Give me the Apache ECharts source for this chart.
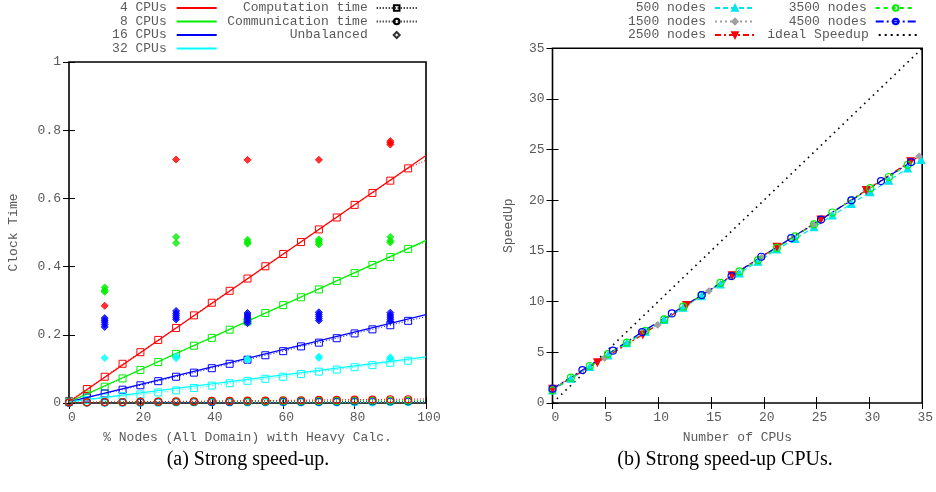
<!DOCTYPE html>
<html>
<head>
<meta charset="utf-8">
<script src="https://cdn.jsdelivr.net/npm/echarts@6/dist/echarts.min.js"></script>
<style>html,body{margin:0;padding:0;background:#fff}#c{width:936px;height:492px}</style>
</head>
<body>
<div id="c"></div>
<script>
// ---------- Left panel data (Strong speed-up) ----------
const pctNodes = [0,5,10,15,20,25,30,35,40,45,50,55,60,65,70,75,80,85,90,95,100];
const comp4  = [0.005,0.041,0.077,0.115,0.149,0.185,0.220,0.257,0.294,0.329,0.365,0.401,0.437,0.472,0.509,0.544,0.581,0.616,0.652,0.688,0.712];
const comp8  = [0.004,0.025,0.048,0.072,0.097,0.120,0.144,0.168,0.191,0.215,0.239,0.264,0.287,0.310,0.333,0.358,0.381,0.405,0.428,0.452,0.472];
const comp16 = [0.004,0.016,0.028,0.039,0.052,0.064,0.077,0.089,0.102,0.115,0.127,0.140,0.152,0.166,0.177,0.190,0.204,0.216,0.228,0.241,0.253];
const comp32 = [0.003,0.009,0.016,0.020,0.025,0.031,0.037,0.044,0.051,0.058,0.065,0.071,0.077,0.085,0.092,0.098,0.105,0.111,0.118,0.124,0.130];
const comm4  = [0.002,0.002,0.003,0.003,0.004,0.004,0.005,0.005,0.006,0.006,0.007,0.007,0.008,0.008,0.009,0.009,0.010,0.010,0.011,0.011,0.012];
const comm8  = [0.002,0.002,0.003,0.003,0.003,0.004,0.004,0.004,0.005,0.005,0.005,0.005,0.006,0.006,0.006,0.006,0.007,0.007,0.007,0.007,0.008];
const comm16 = [0.001,0.002,0.002,0.002,0.002,0.003,0.003,0.003,0.003,0.003,0.004,0.004,0.004,0.004,0.004,0.004,0.005,0.005,0.005,0.005,0.005];
const comm32 = [0.001,0.001,0.001,0.001,0.001,0.001,0.002,0.002,0.002,0.002,0.002,0.002,0.002,0.002,0.002,0.002,0.002,0.002,0.003,0.003,0.003];
const fitX   = [0, 100];
const fit4   = [0.003, 0.726];
const fit8   = [0.003, 0.477];
const fit16  = [0.003, 0.259];
const fit32  = [0.003, 0.135];
const unb4  = [[10,0.285],[30,0.714],[50,0.713],[70,0.713],[90,0.758],[90,0.763],[90,0.768]];
const unb8  = [[10,0.326],[10,0.331],[10,0.339],[30,0.469],[30,0.487],[50,0.467],[50,0.472],[50,0.479],[70,0.465],[70,0.470],[70,0.475],[70,0.480],[90,0.471],[90,0.476],[90,0.487]];
const unb16 = [[10,0.223],[10,0.230],[10,0.237],[10,0.243],[10,0.249],[30,0.245],[30,0.251],[30,0.257],[30,0.263],[30,0.270],[50,0.234],[50,0.240],[50,0.246],[50,0.252],[50,0.258],[50,0.264],[70,0.242],[70,0.248],[70,0.254],[70,0.260],[70,0.266],[90,0.240],[90,0.246],[90,0.252],[90,0.258],[90,0.265]];
const unb32 = [[10,0.132],[30,0.131],[30,0.137],[50,0.126],[50,0.130],[70,0.132],[70,0.136],[90,0.130],[90,0.134]];
const cpuNames = ['4 CPUs','8 CPUs','16 CPUs','32 CPUs'];
const cpuColors = ['#ff0000','#00ee00','#0000ff','#00ffff'];

// ---------- Right panel data (Strong speed-up CPUs) ----------
const cpu500   = [0,1.74,3.53,5.25,7.04,8.8,10.58,12.37,14.1,15.9,17.7,19.45,21.24,22.97,24.76,26.5,28.3,30.08,31.84,33.63,34.9];
const sp500    = [1.25,2.4,3.55,4.7,5.9,7.05,8.2,9.4,10.55,11.7,12.8,13.95,15.15,16.2,17.35,18.5,19.65,20.8,21.95,23.15,24.0];
const cpu1500  = [0,4.94,9.96,14.8,19.8,24.7,29.7,34.7];
const sp1500   = [1.3,4.45,7.7,11.05,14.35,17.6,21.0,24.35];
const cpu2500  = [0,4.25,8.55,12.68,17.0,21.25,25.4,29.7,33.9,35];
const sp2500   = [1.4,4.0,6.75,9.66,12.6,15.4,18.1,21.0,23.85,24.5];
const cpu3500  = [0,1.74,3.53,5.25,7.04,8.8,10.58,12.37,14.1,15.9,17.7,19.45,21.24,22.97,24.76,26.5,28.3,30.08,31.84,33.63];
const sp3500   = [1.25,2.5,3.65,4.83,5.95,7.13,8.25,9.5,10.65,11.86,12.98,14.1,15.3,16.45,17.63,18.8,20.0,21.2,22.3,23.5];
const cpu4500  = [0,2.83,5.72,8.48,11.3,14.13,16.95,19.77,22.6,25.42,28.3,31.1,33.94,35];
const sp4500   = [1.41,3.25,5.16,7.0,8.84,10.65,12.52,14.43,16.27,18.1,20.0,21.9,23.77,24.5];
const idealX   = [0, 35];
const idealY   = [0, 35];

const pair = (xs, ys) => xs.map((x, i) => [x, ys[i]]);
const MONO = '"Liberation Mono", "DejaVu Sans Mono", monospace';
const TXT = '#5a5a5a';
const CLEAR = 'rgba(255,255,255,0)';

const chart = echarts.init(document.getElementById('c'), null, {renderer: 'canvas'});

function axisBase(extra) {
  return Object.assign({
    type: 'value',
    splitLine: {show: false},
    axisLine: {show: false},
    axisTick: {show: true, inside: true, length: 6, lineStyle: {color: '#000', width: 1}},
    axisLabel: {color: TXT, fontFamily: MONO, fontSize: 13, margin: 8},
    nameTextStyle: {color: TXT, fontFamily: MONO, fontSize: 13}
  }, extra);
}
function xLab(a) { a.axisLabel = Object.assign({}, a.axisLabel, {padding: [0, 0, 0, 6]}); return a; }
function mirror(extra) {
  const a = axisBase(extra);
  a.axisLabel = {show: false};
  return a;
}

const series = [];
// fitted solid lines
[fit4, fit8, fit16, fit32].forEach((f, i) => {
  series.push({type: 'line', name: cpuNames[i], xAxisIndex: 0, yAxisIndex: 0, data: pair(fitX, f),
    symbol: 'none', lineStyle: {color: cpuColors[i], width: 1.3}, itemStyle: {color: cpuColors[i]}, z: 3});
});
// computation time
[comp4, comp8, comp16, comp32].forEach((c, i) => {
  series.push({type: 'line', name: 'comp' + i, xAxisIndex: 0, yAxisIndex: 0,
    data: pctNodes.map((x, k) => x === 100 ? {value: [x, c[k]], symbol: 'none'} : [x, c[k]]),
    symbol: 'rect', symbolSize: 7, showAllSymbol: true,
    lineStyle: {color: cpuColors[i], width: 1, type: [1, 2]},
    itemStyle: {color: CLEAR, borderColor: cpuColors[i], borderWidth: 1}, z: 2});
});
// communication time
[comm4, comm8, comm16, comm32].forEach((c, i) => {
  series.push({type: 'line', name: 'comm' + i, xAxisIndex: 0, yAxisIndex: 0,
    data: pctNodes.map((x, k) => x === 100 ? {value: [x, c[k]], symbol: 'none'} : [x, c[k]]),
    symbol: 'circle', symbolSize: 7, showAllSymbol: true,
    lineStyle: {color: cpuColors[i], width: 1, type: [1, 2]},
    itemStyle: {color: CLEAR, borderColor: cpuColors[i], borderWidth: 1.2}, z: 4 - i});
});
// unbalanced
[unb4, unb8, unb16, unb32].forEach((u, i) => {
  series.push({type: 'scatter', name: 'unb' + i, xAxisIndex: 0, yAxisIndex: 0, data: u,
    symbol: 'diamond', symbolSize: 7, itemStyle: {color: cpuColors[i], borderColor: cpuColors[i], borderWidth: 1}, z: 3});
});
// legend-only dummies
series.push({type: 'line', name: 'Computation time', xAxisIndex: 0, yAxisIndex: 0, data: [],
  symbol: 'rect', symbolSize: 7, lineStyle: {color: '#000', width: 1, type: [1, 2]},
  itemStyle: {color: CLEAR, borderColor: '#000', borderWidth: 1}});
series.push({type: 'line', name: 'Communication time', xAxisIndex: 0, yAxisIndex: 0, data: [],
  symbol: 'circle', symbolSize: 7, lineStyle: {color: '#000', width: 1, type: [1, 2]},
  itemStyle: {color: CLEAR, borderColor: '#000', borderWidth: 1.2}});
series.push({type: 'scatter', name: 'Unbalanced', xAxisIndex: 0, yAxisIndex: 0, data: [],
  symbol: 'diamond', symbolSize: 7, itemStyle: {color: CLEAR, borderColor: '#000', borderWidth: 1.2}});

// right panel
const R = [
  {name: '500 nodes', xs: cpu500, ys: sp500, color: '#00e5ee', symbol: 'triangle', size: 7, dash: [5, 3], fill: true},
  {name: '1500 nodes', xs: cpu1500, ys: sp1500, color: '#a0a0a0', symbol: 'diamond', size: 6, dash: [2, 3], fill: true},
  {name: '2500 nodes', xs: cpu2500, ys: sp2500, color: '#ff0000', symbol: 'triangle', size: 7, dash: [6, 3, 2, 3], rot: 180, fill: true},
  {name: '3500 nodes', xs: cpu3500, ys: sp3500, color: '#00ee00', symbol: 'circle', size: 7, dash: [4, 4], fill: false},
  {name: '4500 nodes', xs: cpu4500, ys: sp4500, color: '#0000ff', symbol: 'circle', size: 7, dash: [8, 3, 2, 3], fill: false}
];
R.forEach(s => {
  series.push({type: 'line', name: s.name, xAxisIndex: 4, yAxisIndex: 4,
    data: s.xs.map((x, k) => x >= 34.95 ? {value: [x, s.ys[k]], symbol: 'none'} : [x, s.ys[k]]),
    symbol: s.symbol, symbolSize: s.size, symbolRotate: s.rot || 0, showAllSymbol: true,
    lineStyle: {color: s.color, width: 1.2, type: s.dash},
    itemStyle: {color: s.fill ? s.color : CLEAR, borderColor: s.color, borderWidth: 1.2}});
});
series.push({type: 'line', name: 'ideal Speedup', xAxisIndex: 4, yAxisIndex: 4, data: pair(idealX, idealY),
  symbol: 'none', lineStyle: {color: '#000', width: 1.6, type: [1.6, 4.4]}, itemStyle: {color: '#000'}});

// dotted legend key for the ideal line
let dots = 'path://';
for (let k = 0; k < 7; k++) dots += 'M' + (k * 6) + ',0h2v2h-2z';

// legends (one per entry so text is right-justified like gnuplot keys)
const rowTop = [1.5, 15, 28.5, 42];
function leg(name, right, row, opts) {
  opts = opts || {};
  return {
    data: [opts.icon ? {name: name, icon: opts.icon} : name],
    right: right, top: rowTop[row], orient: 'vertical', align: 'right', padding: 0,
    itemWidth: opts.w || 40, itemHeight: opts.h || 7, selectedMode: false,
    textStyle: {fontFamily: MONO, fontSize: 13, color: TXT, padding: [0, opts.pad == null ? 5 : opts.pad, 0, 0]}
  };
}
const legends = [
  leg('4 CPUs', 719.3, 0, {icon: 'rect', h: 2}),
  leg('8 CPUs', 719.3, 1, {icon: 'rect', h: 2}),
  leg('16 CPUs', 719.3, 2, {icon: 'rect', h: 2}),
  leg('32 CPUs', 719.3, 3, {icon: 'rect', h: 2}),
  leg('Computation time', 518.3, 0, {pad: 4}),
  leg('Communication time', 518.3, 1, {pad: 4}),
  leg('Unbalanced', 535.3, 2, {icon: 'diamond', w: 6, h: 6, pad: 21}),
  leg('500 nodes', 180, 0, {pad: 4}),
  leg('1500 nodes', 180, 1, {pad: 4}),
  leg('2500 nodes', 180, 2, {pad: 4}),
  leg('3500 nodes', 19.3, 0, {pad: 4}),
  leg('4500 nodes', 19.3, 1, {pad: 4}),
  leg('ideal Speedup', 19.3, 2, {icon: dots, h: 2, pad: 4})
];

const option = {
  animation: false,
  backgroundColor: '#fff',
  legend: legends,
  grid: [
    {left: 69, top: 62, width: 357, height: 341, show: true, borderColor: '#000', borderWidth: 1.6},
    {left: 552.5, top: 48.3, width: 371.5, height: 354.7, show: true, borderColor: '#000', borderWidth: 1.6}
  ],
  xAxis: [
    xLab(axisBase({gridIndex: 0, min: 0, max: 100, interval: 20, position: 'bottom',
      name: '% Nodes (All Domain) with Heavy Calc.', nameLocation: 'middle', nameGap: 28})),
    mirror({gridIndex: 0, min: 0, max: 100, interval: 20, position: 'top'}),
    xLab(axisBase({gridIndex: 1, min: 0, max: 35, interval: 5, position: 'bottom',
      name: 'Number of CPUs', nameLocation: 'middle', nameGap: 28})),
    mirror({gridIndex: 1, min: 0, max: 35, interval: 5, position: 'top'}),
    axisBase({gridIndex: 1, min: 0, max: 35, show: false})
  ],
  yAxis: [
    axisBase({gridIndex: 0, min: 0, max: 1, interval: 0.2, position: 'left',
      name: 'Clock Time', nameLocation: 'middle', nameGap: 49, nameRotate: 90}),
    mirror({gridIndex: 0, min: 0, max: 1, interval: 0.2, position: 'right'}),
    axisBase({gridIndex: 1, min: 0, max: 35, interval: 5, position: 'left',
      name: 'SpeedUp', nameLocation: 'middle', nameGap: 37, nameRotate: 90}),
    mirror({gridIndex: 1, min: 0, max: 35, interval: 5, position: 'right'}),
    axisBase({gridIndex: 1, min: 0, max: 35, show: false})
  ],
  graphic: [
    {type: 'text', x: 248, y: 460, style: {text: '(a) Strong speed-up.', font: '20px "Liberation Serif", serif',
      fill: '#000', align: 'center', verticalAlign: 'middle', textAlign: 'center', textVerticalAlign: 'middle'}},
    {type: 'text', x: 725, y: 460, style: {text: '(b) Strong speed-up CPUs.', font: '20px "Liberation Serif", serif',
      fill: '#000', align: 'center', verticalAlign: 'middle', textAlign: 'center', textVerticalAlign: 'middle'}}
  ],
  series: series
};
chart.setOption(option);
</script>
</body>
</html>
